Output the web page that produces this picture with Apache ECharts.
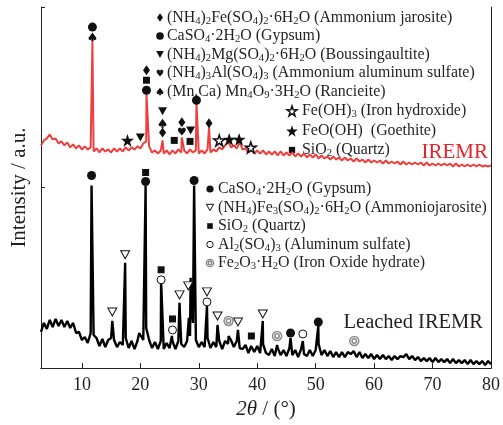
<!DOCTYPE html>
<html>
<head>
<meta charset="utf-8">
<script src="https://cdn.jsdelivr.net/npm/echarts@6/dist/echarts.min.js"></script>
<style>
  html, body { margin: 0; padding: 0; background: #fff; }
  #chart { width: 503px; height: 425px; }
</style>
</head>
<body>
<div id="chart"></div>
<script>
// XRD patterns, sampled every 0.5 deg from 3 deg; intensity in a.u.
var thetaStart = 3, thetaStep = 0.5;

var redBase = [
  222, 227, 229, 233, 228, 229, 224, 226, 222, 225,
  220, 223, 219, 222, 218, 221, 218, 220, 216, 219,
  215, 219, 216, 218, 215, 219, 216, 219, 216, 220,
  217, 220, 218, 221, 219, 224, 226, 221, 215, 217,
  214, 217, 214, 217, 213, 217, 214, 218, 215, 217,
  214, 218, 215, 217, 214, 217, 214, 218, 215, 218,
  216, 220, 218, 222, 226, 220, 222, 219, 225, 218,
  219, 215, 218, 214, 217, 214, 217, 213, 216, 213,
  216, 212, 216, 212, 215, 212, 215, 211, 214, 211,
  214, 210, 213, 210, 213, 209, 212, 209, 211, 208,
  211, 208, 210, 207, 210, 207, 209, 206, 209, 206,
  208, 205, 208, 205, 207, 205, 207, 204, 207, 204,
  206, 204, 206, 203, 206, 203, 205, 203, 205, 203,
  205, 202, 205, 202, 204, 202, 204, 202, 204, 202,
  204, 201, 204, 201, 203, 201, 203, 201, 203, 201,
  203, 201, 202, 201, 202
];
var redPeaks = [[11.8, 325], [21.05, 273], [23.8, 227], [27.1, 230], [29.6, 265], [31.75, 240]];

var blackBase = [
  36, 45, 39, 48, 41, 49, 42, 48, 41, 47,
  40, 45, 35, 36, 28, 31, 25, 35, 33, 30,
  22, 29, 21, 28, 30, 28, 21, 26, 23, 30,
  20, 27, 19, 27, 33, 28, 40, 28, 20, 26,
  19, 27, 19, 25, 20, 27, 19, 27, 24, 21,
  27, 32, 45, 28, 21, 26, 21, 30, 20, 26,
  21, 27, 19, 27, 24, 28, 21, 27, 20, 19,
  23, 15, 21, 16, 22, 15, 24, 15, 13, 19,
  12, 20, 13, 18, 12, 20, 13, 18, 11, 19,
  14, 12, 18, 12, 18, 24, 13, 18, 12, 17,
  11, 16, 11, 16, 11, 16, 14, 17, 11, 16,
  10, 14, 10, 14, 9, 13, 9, 13, 9, 12,
  8, 12, 9, 12, 11, 14, 9, 12, 8, 11,
  7, 10, 7, 10, 6, 10, 6, 9, 6, 9,
  5, 9, 5, 8, 5, 8, 4, 8, 4, 7,
  4, 7, 3, 7, 4
];
var blackPeaks = [
  [11.65, 182], [15.2, 47], [17.4, 105], [19.8, 35], [20.9, 182], [23.55, 87],
  [25.4, 32], [26.7, 65], [28.3, 50], [28.6, 90], [28.8, 60], [29.2, 182],
  [31.4, 62], [33.2, 43], [35.1, 32], [36.7, 38], [38.95, 22], [40.95, 47],
  [43.4, 23], [45.7, 30], [47.8, 27], [50.45, 42], [56.6, 18]
];

var xTicks = [10, 20, 30, 40, 50, 60, 70, 80];

// phase markers [2theta, height]
var redJarosite = [[21.05, 297], [23.8, 235], [27.1, 245], [31.75, 244]];
var redGypsum = [[11.8, 340], [21.05, 277], [29.6, 267]];
var redBoussing = [[20.0, 230], [23.8, 256], [28.6, 237]];
var redAlSulfate = [[27.1, 236]];
var redRancieite = [[11.8, 330], [23.8, 244]];
var redFeOH3 = [[33.5, 227], [38.9, 220]];
var redGoethite = [[17.8, 227], [35.2, 228], [36.9, 228]];
var redQuartz = [[21.05, 287], [25.8, 227], [28.5, 226]];

var blackGypsum = [[11.65, 192], [20.9, 186], [29.2, 187], [45.7, 35], [50.45, 46]];
var blackAmmJarosite = [[15.2, 56], [17.4, 113], [26.7, 73], [28.2, 82], [31.4, 76], [33.2, 52], [36.7, 46], [40.95, 54]];
var blackQuartz = [[20.9, 195], [23.55, 98], [25.5, 49], [39.0, 32]];
var blackAlSulfate = [[23.55, 88], [25.5, 38], [31.4, 66], [47.8, 34]];
var blackFeOxHyd = [[35.1, 47], [43.4, 32], [56.6, 27]];

var redLegend1 = [
  '(NH_4)_2Fe(SO_4)_2·6H_2O (Ammonium jarosite)',
  'CaSO_4·2H_2O (Gypsum)',
  '(NH_4)_2Mg(SO_4)_2·6H_2O (Boussingaultite)',
  '(NH_4)_3Al(SO_4)_3 (Ammonium aluminum sulfate)',
  '(Mn,Ca) Mn_4O_9·3H_2O (Rancieite)'
];
var redLegend2 = ['Fe(OH)_3 (Iron hydroxide)', 'FeO(OH)  (Goethite)', 'SiO_2 (Quartz)'];
var blackLegend = [
  'CaSO_4·2H_2O (Gypsum)',
  '(NH_4)Fe_3(SO_4)_2·6H_2O (Ammoniojarosite)',
  'SiO_2 (Quartz)',
  'Al_2(SO_4)_3 (Aluminum sulfate)',
  'Fe_2O_3·H_2O (Iron Oxide hydrate)'
];

var INK = '#231f20';
var RED = '#ef3e3e';
var SERIF = 'Liberation Serif';

// marker outlines in a 10x10 box
var POLY = {
  diamond: [[5, 0], [10, 5], [5, 10], [0, 5]],
  tri: [[0, 0], [10, 0], [5, 9]],
  square: [[0, 0], [10, 0], [10, 10], [0, 10]],
  heart: [[5, 10], [0.8, 5.2], [0, 3], [0.6, 1], [2.5, 0], [4.2, 0.7], [5, 2], [5.8, 0.7], [7.5, 0], [9.4, 1], [10, 3], [9.2, 5.2]],
  spade: [[5, 0], [2, 3.5], [0, 6], [0.5, 7.8], [2.2, 8.5], [4.2, 7.5], [3.2, 10], [6.8, 10], [5.8, 7.5], [7.8, 8.5], [9.5, 7.8], [10, 6], [8, 3.5]],
  star: [[5, 0], [6.18, 3.51], [9.81, 3.51], [6.88, 5.68], [7.94, 9.19], [5, 7.02], [2.06, 9.19], [3.12, 5.68], [0.19, 3.51], [3.82, 3.51]]
};
var LOOK = {
  diamond: { d: 'diamond', size: [7, 10], fill: '#111', stroke: null, lw: 0 },
  dot: { d: 'circle', size: [9, 9], fill: '#111', stroke: null, lw: 0 },
  tri: { d: 'tri', size: [9, 8], fill: '#111', stroke: null, lw: 0 },
  heart: { d: 'heart', size: [8, 8], fill: '#111', stroke: null, lw: 0 },
  spade: { d: 'spade', size: [8, 9], fill: '#111', stroke: null, lw: 0 },
  ostar: { d: 'star', size: [11, 11], fill: '#fff', stroke: '#111', lw: 1.5 },
  star: { d: 'star', size: [13, 13], fill: '#111', stroke: null, lw: 0 },
  square: { d: 'square', size: [7, 7], fill: '#111', stroke: null, lw: 0 },
  otri: { d: 'tri', size: [9, 8], fill: '#fff', stroke: '#111', lw: 1 },
  ocircle: { d: 'circle', size: [8, 8], fill: '#fff', stroke: '#111', lw: 1 },
  ring: { d: 'ring2', size: [9, 9], fill: '#fff', stroke: '#8a8a8a', lw: 1.5 }
};

function symbolOf(d) {
  if (d === 'circle') return 'circle';
  if (d === 'ring2') return 'path://M0,5 A5,5 0 1,0 10,5 A5,5 0 1,0 0,5 Z M2.6,5 A2.4,2.4 0 1,0 7.4,5 A2.4,2.4 0 1,0 2.6,5 Z';
  return 'path://M' + POLY[d].map(function (p) { return p[0] + ',' + p[1]; }).join(' L') + ' Z';
}

function buildTrace(base, peaks) {
  var pts = base.map(function (v, i) { return [thetaStart + i * thetaStep, v]; });
  pts = pts.concat(peaks);
  pts.sort(function (a, b) { return a[0] - b[0]; });
  return pts;
}

function markers(data, look) {
  var L = LOOK[look];
  return {
    type: 'scatter',
    data: data,
    symbol: symbolOf(L.d),
    symbolSize: L.size,
    z: 5,
    silent: true,
    itemStyle: { color: L.fill, borderColor: L.stroke || L.fill, borderWidth: L.lw, opacity: 1 }
  };
}

function chem(s) {
  return '{t|' + s.replace(/_(\d)/g, '}{s|$1}{t|') + '}';
}

function richOf(size) {
  return {
    t: { fontFamily: SERIF, fontSize: size, fill: INK, lineHeight: 18 },
    s: { fontFamily: SERIF, fontSize: size * 0.67, fill: INK, lineHeight: 9, verticalAlign: 'bottom' }
  };
}

function glyph(look, cx, cy, scale) {
  var L = LOOK[look];
  var w = L.size[0] * scale, h = L.size[1] * scale;
  var style = { fill: L.fill, stroke: L.stroke || null, lineWidth: L.lw };
  if (L.d === 'circle') {
    return [{ type: 'circle', shape: { cx: cx, cy: cy, r: w / 2 }, style: style }];
  }
  if (L.d === 'ring2') {
    return [
      { type: 'circle', shape: { cx: cx, cy: cy, r: w / 2 }, style: style },
      { type: 'circle', shape: { cx: cx, cy: cy, r: w / 4.2 }, style: style }
    ];
  }
  var pts = POLY[L.d];
  var xs = pts.map(function (p) { return p[0]; }), ys = pts.map(function (p) { return p[1]; });
  var x0 = Math.min.apply(null, xs), x1 = Math.max.apply(null, xs);
  var y0 = Math.min.apply(null, ys), y1 = Math.max.apply(null, ys);
  return [{
    type: 'polygon',
    shape: {
      points: pts.map(function (p) {
        return [cx - w / 2 + (p[0] - x0) / (x1 - x0) * w, cy - h / 2 + (p[1] - y0) / (y1 - y0) * h];
      })
    },
    style: style
  }];
}

function legendRows(labels, looks, gx, tx, ys, scale, size) {
  var out = [];
  var rich = richOf(size);
  labels.forEach(function (lab, i) {
    out = out.concat(glyph(looks[i], gx, ys[i], scale));
    out.push({
      type: 'text', x: tx, y: ys[i],
      style: { text: chem(lab), rich: rich, verticalAlign: 'middle', align: 'left' }
    });
  });
  return out;
}

var graphics = []
  .concat(legendRows(redLegend1, ['diamond', 'dot', 'tri', 'heart', 'spade'], 160, 167, [17.5, 36, 54.5, 73, 91.5], 0.85, 15.9))
  .concat(legendRows(redLegend2, ['ostar', 'star', 'square'], 292, 302, [111, 131, 150], 0.9, 15.9))
  .concat(legendRows(blackLegend, ['dot', 'otri', 'square', 'ocircle', 'ring'], 210, 218, [189, 207.5, 226, 244.5, 263], 0.8, 15.9));
graphics.push({
  type: 'text', x: 488, y: 152,
  style: { text: 'IREMR', fill: '#e3242b', font: '21px "Liberation Serif"', align: 'right', verticalAlign: 'middle' }
});
graphics.push({
  type: 'text', x: 483, y: 323,
  style: { text: 'Leached IREMR', fill: INK, font: '20.5px "Liberation Serif"', align: 'right', verticalAlign: 'middle' }
});

var chart = echarts.init(document.getElementById('chart'));
chart.setOption({
  backgroundColor: '#fff',
  animation: false,
  grid: { left: 41, right: 9, top: 7, bottom: 55.5 },
  xAxis: [{
    type: 'value', min: 3, max: 80,
    axisLine: { lineStyle: { color: INK, width: 1 } },
    axisTick: { inside: true, length: 5, customValues: xTicks, lineStyle: { color: INK } },
    axisLabel: { customValues: xTicks, fontFamily: SERIF, fontSize: 18, color: INK, margin: 8 },
    splitLine: { show: false },
    name: '{i|2θ} / (°)', nameLocation: 'middle', nameGap: 26,
    nameTextStyle: {
      fontFamily: SERIF, fontSize: 21, color: INK,
      rich: { i: { fontFamily: SERIF, fontSize: 21, fontStyle: 'italic', color: INK } }
    }
  }, {
    type: 'value', min: 3, max: 80, position: 'top',
    axisLine: { show: true, lineStyle: { color: INK, width: 1 } },
    axisTick: { show: false }, axisLabel: { show: false }, splitLine: { show: false }
  }],
  yAxis: [{
    type: 'value', min: 0, max: 360, interval: 180,
    axisLine: { show: true, lineStyle: { color: INK, width: 1 } },
    axisTick: { show: true, inside: true, length: 4, lineStyle: { color: INK } },
    axisLabel: { show: false }, splitLine: { show: false },
    name: 'Intensity / a.u.', nameLocation: 'middle', nameGap: 11,
    nameTextStyle: { fontFamily: SERIF, fontSize: 21, color: INK }
  }, {
    type: 'value', min: 0, max: 360, position: 'right',
    axisLine: { show: true, lineStyle: { color: INK, width: 1 } },
    axisTick: { show: false }, axisLabel: { show: false }, splitLine: { show: false }
  }],
  series: [
    { type: 'line', data: buildTrace(redBase, redPeaks), showSymbol: false, symbol: 'none',
      lineStyle: { color: RED, width: 2 }, z: 2, silent: true },
    { type: 'line', data: buildTrace(blackBase, blackPeaks), showSymbol: false, symbol: 'none',
      lineStyle: { color: '#000', width: 2.4 }, z: 3, silent: true },
    markers(redJarosite, 'diamond'),
    markers(redGypsum, 'dot'),
    markers(redBoussing, 'tri'),
    markers(redAlSulfate, 'heart'),
    markers(redRancieite, 'spade'),
    markers(redFeOH3, 'ostar'),
    markers(redGoethite, 'star'),
    markers(redQuartz, 'square'),
    markers(blackGypsum, 'dot'),
    markers(blackAmmJarosite, 'otri'),
    markers(blackQuartz, 'square'),
    markers(blackAlSulfate, 'ocircle'),
    markers(blackFeOxHyd, 'ring')
  ],
  graphic: { elements: graphics }
});
</script>
</body>
</html>
